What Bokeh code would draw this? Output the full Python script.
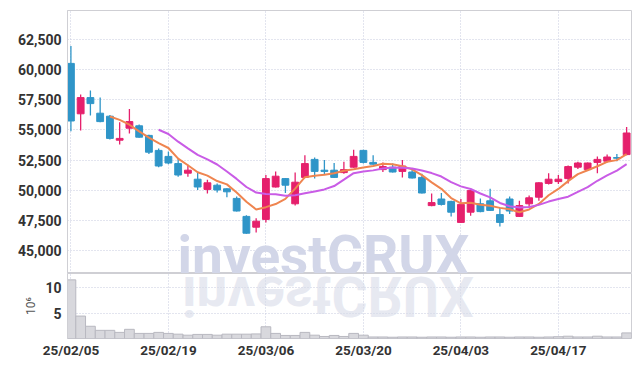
import pandas as pd
from bokeh.plotting import figure
from bokeh.models import Range1d, FixedTicker, Label, Div, NumeralTickFormatter
from bokeh.layouts import column
from bokeh.embed import file_html
from bokeh.resources import INLINE

# ---------------- data ----------------
dates = ["25/02/05", "25/02/06", "25/02/07", "25/02/10", "25/02/11", "25/02/12", "25/02/13", "25/02/14",
         "25/02/17", "25/02/18", "25/02/19", "25/02/20", "25/02/21", "25/02/24", "25/02/25", "25/02/26",
         "25/02/27", "25/02/28", "25/03/04", "25/03/05", "25/03/06", "25/03/07", "25/03/10", "25/03/11",
         "25/03/12", "25/03/13", "25/03/14", "25/03/17", "25/03/18", "25/03/19", "25/03/20", "25/03/21",
         "25/03/24", "25/03/25", "25/03/26", "25/03/27", "25/03/28", "25/03/31", "25/04/01", "25/04/02",
         "25/04/03", "25/04/04", "25/04/07", "25/04/08", "25/04/09", "25/04/10", "25/04/11", "25/04/14",
         "25/04/15", "25/04/16", "25/04/17", "25/04/18", "25/04/21", "25/04/22", "25/04/23", "25/04/24",
         "25/04/25", "25/04/28"]

opens = [60550, 56350, 57700, 56400, 56150, 54150, 55150, 55350, 54550, 53300,
         52800, 52200, 51400, 50900, 50050, 50400, 50100, 49300, 47800, 46900,
         47550, 50250, 50950, 48850, 51050, 52550, 51650, 51650, 51450, 51900,
         53300, 52300, 51700, 51900, 51550, 51500, 51050, 48700, 49250, 49050,
         47300, 48150, 48850, 49100, 47950, 49250, 47800, 48850, 49400, 50550,
         50700, 50950, 51900, 51700, 52300, 52400, 52700, 52950]
highs = [62000, 57950, 58300, 57700, 56250, 55650, 56750, 55450, 54600, 53450,
         53200, 52600, 52100, 51450, 50850, 50550, 50150, 49450, 47900, 47650,
         51250, 51550, 51000, 51450, 52900, 52700, 52500, 52250, 52350, 53350,
         53350, 52900, 52300, 52200, 52500, 51700, 51350, 49700, 49750, 49100,
         49250, 50000, 49300, 50100, 48550, 49450, 49100, 49550, 50650, 51400,
         51250, 52050, 52350, 52300, 52800, 52950, 53000, 55250]
lows = [54900, 54950, 56200, 55650, 54200, 53800, 54700, 54350, 53000, 51900,
        52150, 51100, 51100, 50000, 49700, 49800, 49400, 48200, 46350, 46450,
        47300, 50200, 49750, 48700, 51000, 50950, 51300, 51000, 51350, 51850,
        52200, 52100, 51500, 51450, 51050, 50950, 49700, 48650, 48700, 47800,
        47250, 47850, 48150, 48250, 46950, 48000, 47750, 48550, 49100, 50450,
        50500, 50550, 51750, 51650, 51400, 52300, 52400, 52900]
closes = [55750, 57700, 57200, 55700, 54300, 54300, 55700, 54400, 53150, 52000,
          52250, 51250, 51650, 50250, 50600, 50000, 49850, 48250, 46400, 47400,
          50950, 51150, 50400, 50650, 52200, 51550, 51550, 51050, 51700, 52800,
          52300, 52150, 51950, 51500, 52000, 51000, 49750, 48950, 48800, 48150,
          48800, 49950, 48200, 48300, 47300, 48250, 48700, 49350, 50600, 50900,
          50900, 51950, 52250, 52250, 52550, 52750, 52650, 54750]
volumes_m = [11.5, 4.4, 2.4, 1.6, 1.6, 1.2, 1.8, 1.0, 1.0, 1.2,
             1.0, 0.85, 0.65, 0.8, 0.8, 0.65, 0.85, 0.85, 0.85, 0.9,
             2.3, 1.0, 0.6, 0.6, 1.2, 0.65, 0.4, 0.6, 0.4, 1.0,
             0.65, 0.3, 0.3, 0.25, 0.3, 0.3, 0.25, 0.3, 0.3, 0.25,
             0.3, 0.3, 0.25, 0.3, 0.3, 0.25, 0.3, 0.3, 0.25, 0.3,
             0.35, 0.45, 0.3, 0.3, 0.45, 0.3, 0.3, 1.1]

price_ticks = [45000, 47500, 50000, 52500, 55000, 57500, 60000, 62500]
volume_ticks = [5, 10]
date_tick_index = [0, 10, 20, 30, 40, 50]

# ---------------- derived ----------------
idx = list(range(len(dates)))
df = pd.DataFrame(dict(x=idx, o=opens, h=highs, l=lows, c=closes, v=volumes_m))
df["top"] = df[["o", "c"]].max(axis=1)
df["bot"] = df[["o", "c"]].min(axis=1)
UP, DOWN = "#e5206c", "#2f95c8"
df["col"] = [UP if c >= o else DOWN for o, c in zip(df.o, df.c)]
ma5 = df.c.rolling(5).mean()
ma10 = df.c.rolling(10).mean()

FONT = "Roboto"
GRID = "#c6cade"
BORDER = "#cfcfd4"
LBL = "#333333"

x_range = Range1d(-0.35, 57.5)


def style_axis(ax, size):
    ax.major_label_text_font = FONT
    ax.major_label_text_font_size = size
    ax.major_label_text_font_style = "bold"
    ax.major_label_text_color = LBL
    ax.major_tick_line_color = None
    ax.minor_tick_line_color = None
    ax.major_tick_out = 0
    ax.major_tick_in = 0
    ax.minor_tick_out = 0
    ax.minor_tick_in = 0


# ---------------- price panel ----------------
p = figure(width=632, height=273, x_range=x_range, y_range=Range1d(43042, 64958),
           output_backend="svg", toolbar_location=None,
           min_border_left=67, min_border_right=1, min_border_top=10, min_border_bottom=0)
p.xaxis.visible = False
p.outline_line_color = BORDER
p.background_fill_color = "white"
p.border_fill_color = "white"
p.yaxis.ticker = FixedTicker(ticks=price_ticks)
p.yaxis.formatter = NumeralTickFormatter(format="0,0")
style_axis(p.yaxis[0], "14px")
p.yaxis.axis_line_color = BORDER
p.yaxis.major_label_standoff = 6
p.xgrid.ticker = FixedTicker(ticks=date_tick_index)
for g in (p.xgrid, p.ygrid):
    g.grid_line_color = GRID
    g.grid_line_dash = "1 2"
    g.grid_line_width = 1

wm = Label(x=110, y=18, x_units="screen", y_units="screen", text="investCRUX",
           text_font=FONT, text_font_size="55px", text_font_style="bold",
           text_color="#d2d6e8", text_baseline="alphabetic", level="underlay")
p.add_layout(wm)

p.segment(x0="x", y0="l", x1="x", y1="h", color="col", line_width=1.3, source=df)
p.vbar(x="x", top="top", bottom="bot", width=0.7, fill_color="col", line_color="col",
       line_width=1, source=df)
p.line(idx, ma5, line_color="#ef8550", line_width=2)
p.line(idx, ma10, line_color="#c95ce6", line_width=2)

# ---------------- volume panel ----------------
pv = figure(width=632, height=91, x_range=x_range, y_range=Range1d(0, 12.75),
            output_backend="svg", toolbar_location=None,
            min_border_left=67, min_border_right=1, min_border_top=0, min_border_bottom=26)
pv.outline_line_color = BORDER
pv.background_fill_color = "white"
pv.border_fill_color = "white"
pv.yaxis.ticker = FixedTicker(ticks=volume_ticks)
pv.yaxis.axis_label = "10⁶"
pv.yaxis.axis_label_text_font = FONT
pv.yaxis.axis_label_text_font_size = "12px"
pv.yaxis.axis_label_text_font_style = "normal"
pv.yaxis.axis_label_text_color = "#555555"
pv.yaxis.axis_label_standoff = 4
style_axis(pv.yaxis[0], "14px")
pv.yaxis.axis_line_color = BORDER
pv.yaxis.major_label_standoff = 6
pv.xaxis.ticker = FixedTicker(ticks=date_tick_index)
pv.xaxis.major_label_overrides = {i: dates[i] for i in date_tick_index}
style_axis(pv.xaxis[0], "13.5px")
pv.xaxis.axis_line_color = None
pv.xaxis.major_label_standoff = 3
pv.xgrid.ticker = FixedTicker(ticks=date_tick_index)
for g in (pv.xgrid, pv.ygrid):
    g.grid_line_color = GRID
    g.grid_line_dash = "1 2"
    g.grid_line_width = 1

pv.vbar(x="x", top="v", width=1.0, fill_color="#d8d8dd", line_color="#b8b8c0",
        line_width=1, source=df)

refl = Div(text="investCRUX", width=320, height=55,
           styles={"position": "absolute", "left": "177px", "top": "263px",
                   "font-family": "Roboto, sans-serif",
                   "font-size": "55px", "font-weight": "bold", "line-height": "55px",
                   "color": "rgba(215,219,233,0.6)", "transform": "scaleY(-1)",
                   "pointer-events": "none", "white-space": "nowrap"})

layout = column(p, pv, refl, spacing=0)
open("out.html", "w").write(file_html(layout, INLINE))
